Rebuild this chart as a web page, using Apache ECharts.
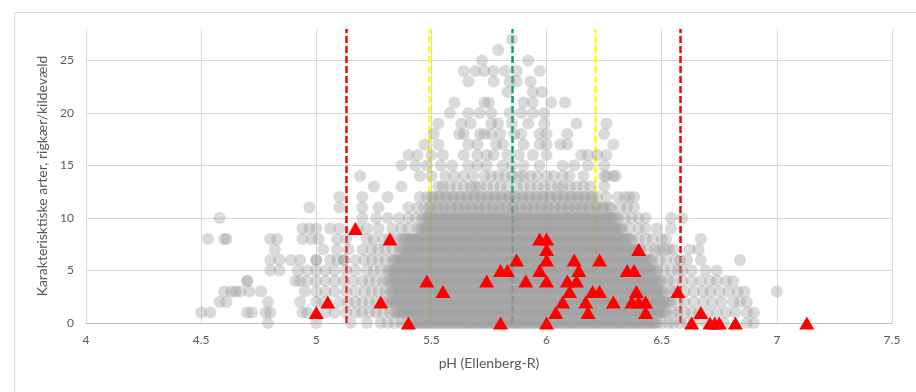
<!DOCTYPE html>
<html>
<head>
<meta charset="utf-8">
<script src="https://cdn.jsdelivr.net/npm/echarts@6/dist/echarts.min.js"></script>
<style>
  html, body { margin: 0; padding: 0; background: #ffffff; }
  #chart { width: 916px; height: 392px; }
</style>
</head>
<body>
<div id="chart"></div>
<script>
// Axis ranges
const phMin = 4, phMax = 7.5, phStep = 0.5;
const countMin = 0, countMax = 28, countStep = 5;

// Threshold lines (pH): mean, ±1 SD, ±2 SD
const redLines = [5.126, 6.578];
const yellowLines = [5.489, 6.215];
const greenLines = [5.852];

// Grey sites: pH values listed per number of characteristic species (row index = count)
const greyRow0 = [4.79, 5.00, 5.15, 5.22, 5.28, 5.31, 5.34, 5.37, 5.39,
  5.41, 5.42, 5.43, 5.44, 5.45, 5.46, 5.47, 5.48, 5.49, 5.50, 5.51, 5.52, 5.53, 5.54, 5.55, 5.56, 5.57, 5.58, 5.59, 5.60,
  5.61, 5.62, 5.63, 5.64, 5.65, 5.66, 5.67, 5.68, 5.69, 5.70, 5.71, 5.72, 5.73, 5.74, 5.75, 5.76, 5.77, 5.78, 5.79, 5.80,
  5.81, 5.82, 5.83, 5.84, 5.85, 5.86, 5.87, 5.88, 5.89, 5.90, 5.91, 5.92, 5.93, 5.94, 5.95, 5.96, 5.97, 5.98, 5.99, 6.00,
  6.01, 6.02, 6.03, 6.04, 6.05, 6.06, 6.07, 6.08, 6.09, 6.10, 6.11, 6.12, 6.13, 6.14, 6.15, 6.16, 6.17, 6.18, 6.19, 6.20,
  6.21, 6.22, 6.23, 6.24, 6.25, 6.26, 6.27, 6.28, 6.29, 6.30, 6.31, 6.32, 6.33, 6.34, 6.35, 6.36, 6.37, 6.38, 6.39, 6.40,
  6.41, 6.42, 6.43, 6.44, 6.45, 6.46, 6.47, 6.48,
  6.50, 6.53, 6.55, 6.58, 6.61, 6.64, 6.69, 6.77, 6.87, 6.90];
const greyRow1 = [4.50, 4.54, 4.70, 4.72, 4.78, 4.80, 4.94, 4.96, 5.04, 5.08, 5.13, 5.17, 5.20, 5.23, 5.26, 5.29, 5.32,
  5.34, 5.35, 5.36, 5.37, 5.38, 5.39, 5.40,
  5.41, 5.42, 5.43, 5.44, 5.45, 5.46, 5.47, 5.48, 5.49, 5.50, 5.51, 5.52, 5.53, 5.54, 5.55, 5.56, 5.57, 5.58, 5.59, 5.60,
  5.61, 5.62, 5.63, 5.64, 5.65, 5.66, 5.67, 5.68, 5.69, 5.70, 5.71, 5.72, 5.73, 5.74, 5.75, 5.76, 5.77, 5.78, 5.79, 5.80,
  5.81, 5.82, 5.83, 5.84, 5.85, 5.86, 5.87, 5.88, 5.89, 5.90, 5.91, 5.92, 5.93, 5.94, 5.95, 5.96, 5.97, 5.98, 5.99, 6.00,
  6.01, 6.02, 6.03, 6.04, 6.05, 6.06, 6.07, 6.08, 6.09, 6.10, 6.11, 6.12, 6.13, 6.14, 6.15, 6.16, 6.17, 6.18, 6.19, 6.20,
  6.21, 6.22, 6.23, 6.24, 6.25, 6.26, 6.27, 6.28, 6.29, 6.30, 6.31, 6.32, 6.33, 6.34, 6.35, 6.36, 6.37, 6.38, 6.39, 6.40,
  6.41, 6.42, 6.43, 6.44, 6.45, 6.46, 6.47, 6.48, 6.49, 6.50, 6.51, 6.52,
  6.55, 6.57, 6.60, 6.63, 6.66, 6.70, 6.74, 6.78, 6.82, 6.87, 6.90];
const greyRow2 = [4.58, 4.61, 4.79, 4.93, 5.00, 5.03, 5.10, 5.14, 5.17, 5.20, 5.23, 5.26, 5.29,
  5.31, 5.32, 5.33, 5.34, 5.35, 5.36, 5.37, 5.38, 5.39, 5.40,
  5.41, 5.42, 5.43, 5.44, 5.45, 5.46, 5.47, 5.48, 5.49, 5.50, 5.51, 5.52, 5.53, 5.54, 5.55, 5.56, 5.57, 5.58, 5.59, 5.60,
  5.61, 5.62, 5.63, 5.64, 5.65, 5.66, 5.67, 5.68, 5.69, 5.70, 5.71, 5.72, 5.73, 5.74, 5.75, 5.76, 5.77, 5.78, 5.79, 5.80,
  5.81, 5.82, 5.83, 5.84, 5.85, 5.86, 5.87, 5.88, 5.89, 5.90, 5.91, 5.92, 5.93, 5.94, 5.95, 5.96, 5.97, 5.98, 5.99, 6.00,
  6.01, 6.02, 6.03, 6.04, 6.05, 6.06, 6.07, 6.08, 6.09, 6.10, 6.11, 6.12, 6.13, 6.14, 6.15, 6.16, 6.17, 6.18, 6.19, 6.20,
  6.21, 6.22, 6.23, 6.24, 6.25, 6.26, 6.27, 6.28, 6.29, 6.30, 6.31, 6.32, 6.33, 6.34, 6.35, 6.36, 6.37, 6.38, 6.39, 6.40,
  6.41, 6.42, 6.43, 6.44, 6.45, 6.46, 6.47, 6.48, 6.49, 6.50, 6.51, 6.52, 6.53, 6.54,
  6.57, 6.60, 6.64, 6.68, 6.72, 6.76, 6.81, 6.84, 6.87];
const greyRow3 = [4.60, 4.63, 4.65, 4.67, 4.71, 4.76, 4.95, 5.00, 5.04, 5.08, 5.13, 5.17, 5.21, 5.24, 5.27, 5.30,
  5.32, 5.33, 5.34, 5.35, 5.36, 5.37, 5.38, 5.39, 5.40,
  5.41, 5.42, 5.43, 5.44, 5.45, 5.46, 5.47, 5.48, 5.49, 5.50, 5.51, 5.52, 5.53, 5.54, 5.55, 5.56, 5.57, 5.58, 5.59, 5.60,
  5.61, 5.62, 5.63, 5.64, 5.65, 5.66, 5.67, 5.68, 5.69, 5.70, 5.71, 5.72, 5.73, 5.74, 5.75, 5.76, 5.77, 5.78, 5.79, 5.80,
  5.81, 5.82, 5.83, 5.84, 5.85, 5.86, 5.87, 5.88, 5.89, 5.90, 5.91, 5.92, 5.93, 5.94, 5.95, 5.96, 5.97, 5.98, 5.99, 6.00,
  6.01, 6.02, 6.03, 6.04, 6.05, 6.06, 6.07, 6.08, 6.09, 6.10, 6.11, 6.12, 6.13, 6.14, 6.15, 6.16, 6.17, 6.18, 6.19, 6.20,
  6.21, 6.22, 6.23, 6.24, 6.25, 6.26, 6.27, 6.28, 6.29, 6.30, 6.31, 6.32, 6.33, 6.34, 6.35, 6.36, 6.37, 6.38, 6.39, 6.40,
  6.41, 6.42, 6.43, 6.44, 6.45, 6.46, 6.47, 6.48, 6.49, 6.50, 6.51,
  6.54, 6.56, 6.60, 6.64, 6.68, 6.71, 6.75, 6.79, 6.83, 6.86, 7.00];
const greyRow4 = [4.70, 4.70, 4.91, 4.93, 4.96, 5.00, 5.04, 5.08, 5.12, 5.16, 5.20, 5.23, 5.26, 5.29,
  5.31, 5.32, 5.33, 5.34, 5.35, 5.36, 5.37, 5.38, 5.39, 5.40,
  5.41, 5.42, 5.43, 5.44, 5.45, 5.46, 5.47, 5.48, 5.49, 5.50, 5.51, 5.52, 5.53, 5.54, 5.55, 5.56, 5.57, 5.58, 5.59, 5.60,
  5.61, 5.62, 5.63, 5.64, 5.65, 5.66, 5.67, 5.68, 5.69, 5.70, 5.71, 5.72, 5.73, 5.74, 5.75, 5.76, 5.77, 5.78, 5.79, 5.80,
  5.81, 5.82, 5.83, 5.84, 5.85, 5.86, 5.87, 5.88, 5.89, 5.90, 5.91, 5.92, 5.93, 5.94, 5.95, 5.96, 5.97, 5.98, 5.99, 6.00,
  6.01, 6.02, 6.03, 6.04, 6.05, 6.06, 6.07, 6.08, 6.09, 6.10, 6.11, 6.12, 6.13, 6.14, 6.15, 6.16, 6.17, 6.18, 6.19, 6.20,
  6.21, 6.22, 6.23, 6.24, 6.25, 6.26, 6.27, 6.28, 6.29, 6.30, 6.31, 6.32, 6.33, 6.34, 6.35, 6.36, 6.37, 6.38, 6.39, 6.40,
  6.41, 6.42, 6.43, 6.44, 6.45, 6.46, 6.47, 6.48, 6.49, 6.50,
  6.53, 6.55, 6.59, 6.63, 6.67, 6.71, 6.74, 6.78, 6.81];
const greyRow5 = [4.80, 4.84, 4.92, 4.96, 5.00, 5.04, 5.08, 5.13, 5.17, 5.22, 5.25, 5.28,
  5.31, 5.32, 5.33, 5.34, 5.35, 5.36, 5.37, 5.38, 5.39, 5.40,
  5.41, 5.42, 5.43, 5.44, 5.45, 5.46, 5.47, 5.48, 5.49, 5.50, 5.51, 5.52, 5.53, 5.54, 5.55, 5.56, 5.57, 5.58, 5.59, 5.60,
  5.61, 5.62, 5.63, 5.64, 5.65, 5.66, 5.67, 5.68, 5.69, 5.70, 5.71, 5.72, 5.73, 5.74, 5.75, 5.76, 5.77, 5.78, 5.79, 5.80,
  5.81, 5.82, 5.83, 5.84, 5.85, 5.86, 5.87, 5.88, 5.89, 5.90, 5.91, 5.92, 5.93, 5.94, 5.95, 5.96, 5.97, 5.98, 5.99, 6.00,
  6.01, 6.02, 6.03, 6.04, 6.05, 6.06, 6.07, 6.08, 6.09, 6.10, 6.11, 6.12, 6.13, 6.14, 6.15, 6.16, 6.17, 6.18, 6.19, 6.20,
  6.21, 6.22, 6.23, 6.24, 6.25, 6.26, 6.27, 6.28, 6.29, 6.30, 6.31, 6.32, 6.33, 6.34, 6.35, 6.36, 6.37, 6.38, 6.39, 6.40,
  6.41, 6.42, 6.43, 6.44, 6.45, 6.46, 6.47, 6.48,
  6.51, 6.54, 6.57, 6.59, 6.63, 6.69, 6.74];
const greyRow6 = [4.80, 4.84, 4.89, 4.93, 5.00, 5.00, 5.06, 5.09, 5.12, 5.12, 5.17, 5.21, 5.24, 5.27, 5.30,
  5.33, 5.34, 5.35, 5.36, 5.37, 5.38, 5.39, 5.40,
  5.41, 5.42, 5.43, 5.44, 5.45, 5.46, 5.47, 5.48, 5.49, 5.50, 5.51, 5.52, 5.53, 5.54, 5.55, 5.56, 5.57, 5.58, 5.59, 5.60,
  5.61, 5.62, 5.63, 5.64, 5.65, 5.66, 5.67, 5.68, 5.69, 5.70, 5.71, 5.72, 5.73, 5.74, 5.75, 5.76, 5.77, 5.78, 5.79, 5.80,
  5.81, 5.82, 5.83, 5.84, 5.85, 5.86, 5.87, 5.88, 5.89, 5.90, 5.91, 5.92, 5.93, 5.94, 5.95, 5.96, 5.97, 5.98, 5.99, 6.00,
  6.01, 6.02, 6.03, 6.04, 6.05, 6.06, 6.07, 6.08, 6.09, 6.10, 6.11, 6.12, 6.13, 6.14, 6.15, 6.16, 6.17, 6.18, 6.19, 6.20,
  6.21, 6.22, 6.23, 6.24, 6.25, 6.26, 6.27, 6.28, 6.29, 6.30, 6.31, 6.32, 6.33, 6.34, 6.35, 6.36, 6.37, 6.38, 6.39, 6.40,
  6.41, 6.42, 6.43, 6.44, 6.45, 6.46,
  6.49, 6.52, 6.56, 6.58, 6.61, 6.67, 6.84];
const greyRow7 = [4.82, 5.03, 5.09, 5.14, 5.20, 5.24, 5.27, 5.30, 5.33,
  5.36, 5.37, 5.38, 5.39, 5.40,
  5.41, 5.42, 5.43, 5.44, 5.45, 5.46, 5.47, 5.48, 5.49, 5.50, 5.51, 5.52, 5.53, 5.54, 5.55, 5.56, 5.57, 5.58, 5.59, 5.60,
  5.61, 5.62, 5.63, 5.64, 5.65, 5.66, 5.67, 5.68, 5.69, 5.70, 5.71, 5.72, 5.73, 5.74, 5.75, 5.76, 5.77, 5.78, 5.79, 5.80,
  5.81, 5.82, 5.83, 5.84, 5.85, 5.86, 5.87, 5.88, 5.89, 5.90, 5.91, 5.92, 5.93, 5.94, 5.95, 5.96, 5.97, 5.98, 5.99, 6.00,
  6.01, 6.02, 6.03, 6.04, 6.05, 6.06, 6.07, 6.08, 6.09, 6.10, 6.11, 6.12, 6.13, 6.14, 6.15, 6.16, 6.17, 6.18, 6.19, 6.20,
  6.21, 6.22, 6.23, 6.24, 6.25, 6.26, 6.27, 6.28, 6.29, 6.30, 6.31, 6.32, 6.33, 6.34, 6.35, 6.36, 6.37, 6.38, 6.39, 6.40,
  6.41,
  6.44, 6.47, 6.49, 6.51, 6.53, 6.55, 6.62, 6.66];
const greyRow8 = [4.53, 4.60, 4.61, 4.80, 4.83, 4.94, 4.98, 5.01, 5.09, 5.13, 5.22, 5.25, 5.29, 5.32, 5.35,
  5.37, 5.38, 5.39, 5.40,
  5.41, 5.42, 5.43, 5.44, 5.45, 5.46, 5.47, 5.48, 5.49, 5.50, 5.51, 5.52, 5.53, 5.54, 5.55, 5.56, 5.57, 5.58, 5.59, 5.60,
  5.61, 5.62, 5.63, 5.64, 5.65, 5.66, 5.67, 5.68, 5.69, 5.70, 5.71, 5.72, 5.73, 5.74, 5.75, 5.76, 5.77, 5.78, 5.79, 5.80,
  5.81, 5.82, 5.83, 5.84, 5.85, 5.86, 5.87, 5.88, 5.89, 5.90, 5.91, 5.92, 5.93, 5.94, 5.95, 5.96, 5.97, 5.98, 5.99, 6.00,
  6.01, 6.02, 6.03, 6.04, 6.05, 6.06, 6.07, 6.08, 6.09, 6.10, 6.11, 6.12, 6.13, 6.14, 6.15, 6.16, 6.17, 6.18, 6.19, 6.20,
  6.21, 6.22, 6.23, 6.24, 6.25, 6.26, 6.27, 6.28, 6.29, 6.30, 6.31, 6.32, 6.33, 6.34, 6.35, 6.36, 6.37,
  6.40, 6.43, 6.46, 6.50, 6.52, 6.67];
const greyRow9 = [4.94, 4.97, 5.00, 5.06, 5.10, 5.18, 5.22, 5.27, 5.33, 5.37, 5.40,
  5.44, 5.45, 5.46, 5.47, 5.48, 5.49, 5.50, 5.51, 5.52, 5.53, 5.54, 5.55, 5.56, 5.57, 5.58, 5.59, 5.60,
  5.61, 5.62, 5.63, 5.64, 5.65, 5.66, 5.67, 5.68, 5.69, 5.70, 5.71, 5.72, 5.73, 5.74, 5.75, 5.76, 5.77, 5.78, 5.79, 5.80,
  5.81, 5.82, 5.83, 5.84, 5.85, 5.86, 5.87, 5.88, 5.89, 5.90, 5.91, 5.92, 5.93, 5.94, 5.95, 5.96, 5.97, 5.98, 5.99, 6.00,
  6.01, 6.02, 6.03, 6.04, 6.05, 6.06, 6.07, 6.08, 6.09, 6.10, 6.11, 6.12, 6.13, 6.14, 6.15, 6.16, 6.17, 6.18, 6.19, 6.20,
  6.21, 6.22, 6.23, 6.24, 6.25, 6.26, 6.27, 6.28, 6.29, 6.30, 6.31, 6.32, 6.33,
  6.36, 6.40, 6.43, 6.48, 6.54];
const greyRow10 = [4.58, 5.20, 5.26, 5.31, 5.36, 5.40, 5.43,
  5.46, 5.47, 5.48, 5.49, 5.50, 5.51, 5.52, 5.53, 5.54, 5.55, 5.56, 5.57, 5.58, 5.59, 5.60,
  5.61, 5.62, 5.63, 5.64, 5.65, 5.66, 5.67, 5.68, 5.69, 5.70, 5.71, 5.72, 5.73, 5.74, 5.75, 5.76, 5.77, 5.78, 5.79, 5.80,
  5.81, 5.82, 5.83, 5.84, 5.85, 5.86, 5.87, 5.88, 5.89, 5.90, 5.91, 5.92, 5.93, 5.94, 5.95, 5.96, 5.97, 5.98, 5.99, 6.00,
  6.01, 6.02, 6.03, 6.04, 6.05, 6.06, 6.07, 6.08, 6.09, 6.10, 6.11, 6.12, 6.13, 6.14, 6.15, 6.16, 6.17, 6.18, 6.19, 6.20,
  6.21, 6.22, 6.23, 6.24, 6.25, 6.26, 6.27, 6.28, 6.29, 6.30, 6.31,
  6.34, 6.37, 6.40, 6.43, 6.54, 6.59];
const greyRow11 = [4.97, 5.10, 5.20, 5.27, 5.40, 5.44, 5.47, 5.49, 5.50, 5.52, 5.53, 5.55, 5.56, 5.58, 5.59, 5.61, 5.62,
  5.64, 5.65, 5.67, 5.68, 5.70, 5.71, 5.73, 5.74, 5.76, 5.77, 5.79, 5.80, 5.82, 5.83, 5.85, 5.86, 5.88, 5.89, 5.91, 5.92,
  5.94, 5.95, 5.97, 5.98, 6.00, 6.01, 6.03, 6.04, 6.06, 6.07, 6.09, 6.10, 6.12, 6.13, 6.15, 6.16, 6.18, 6.19, 6.21, 6.22,
  6.24, 6.25, 6.27, 6.28, 6.32, 6.35, 6.38];
const greyRow12 = [5.10, 5.20, 5.31, 5.45, 5.48,
  5.50, 5.51, 5.53, 5.54, 5.56, 5.57, 5.59, 5.60, 5.62, 5.63, 5.65, 5.66, 5.68, 5.69, 5.71, 5.72, 5.74, 5.75, 5.77, 5.78,
  5.80, 5.81, 5.83, 5.84, 5.86, 5.87, 5.89, 5.90, 5.92, 5.93, 5.95, 5.96, 5.98, 5.99, 6.01, 6.02, 6.04, 6.05, 6.07, 6.08,
  6.10, 6.11, 6.13, 6.14, 6.16, 6.17, 6.19, 6.20, 6.22,
  6.26, 6.31, 6.34, 6.36, 6.38];
const greyRow13 = [5.25, 5.37, 5.53, 5.55, 5.58, 5.61, 5.64, 5.67, 5.69, 5.71, 5.74, 5.77, 5.80, 5.83, 5.87, 5.90, 5.93, 5.96, 5.99, 6.02, 6.05, 6.07, 6.10, 6.13, 6.16, 6.19, 6.25];
const greyRow14 = [5.19, 5.45, 5.50, 5.56, 5.60, 5.64, 5.68, 5.73, 5.76, 5.79, 5.82, 5.85, 5.88, 5.90, 5.93, 5.96, 6.00, 6.03, 6.07, 6.10, 6.16, 6.25, 6.26, 6.29, 6.30];
const greyRow15 = [5.37, 5.43, 5.48, 5.54, 5.59, 5.66, 5.70, 5.74, 5.81, 5.85, 5.90, 5.97, 6.07, 6.12, 6.18, 6.25];
const greyRow16 = [5.40, 5.44, 5.50, 5.55, 5.64, 5.70, 5.74, 5.77, 5.83, 5.88, 5.94, 6.00, 6.15, 6.18, 6.22, 6.26];
const greyRow17 = [5.47, 5.53, 5.66, 5.70, 5.78, 5.81, 5.90, 5.97, 6.00, 6.06, 6.09, 6.29];
const greyRow18 = [5.51, 5.62, 5.64, 5.71, 5.73, 5.76, 5.80, 5.86, 5.89, 5.97, 6.00, 6.09, 6.25];
const greyRow19 = [5.53, 5.63, 5.67, 5.76, 5.79, 5.85, 5.92, 5.99, 6.13, 6.26];
const greyRow20 = [5.58, 5.66, 5.71, 5.76, 5.84, 5.89, 5.94, 5.99];
const greyRow21 = [5.60, 5.73, 5.75, 5.90, 5.94, 6.02, 6.08];
const greyRow22 = [5.83, 5.94, 5.98];
const greyRow23 = [5.66, 5.77, 5.84, 5.87, 5.93];
const greyRow24 = [5.64, 5.69, 5.73, 5.77, 5.82, 5.87, 5.97];
const greyRow25 = [5.72, 5.92];
const greyRow26 = [5.79];
const greyRow27 = [5.85];

// Highlighted sites (red triangles)
const redPH = [5.00, 5.05, 5.17, 5.28, 5.32, 5.40, 5.48, 5.55, 5.74, 5.80, 5.80, 5.83, 5.87, 5.91, 5.97, 5.97,
  6.00, 6.00, 6.00, 6.00, 6.00, 6.04, 6.07, 6.10, 6.09, 6.13, 6.12, 6.14, 6.17, 6.18, 6.20, 6.23, 6.23, 6.29,
  6.35, 6.38, 6.40, 6.39, 6.37, 6.40, 6.43, 6.43, 6.57, 6.63, 6.67, 6.71, 6.73, 6.75, 6.82, 7.13];
const redCount = [1, 2, 9, 2, 8, 0, 4, 3, 4, 0, 5, 5, 6, 4, 5, 8,
  8, 7, 6, 4, 0, 1, 2, 3, 4, 4, 6, 5, 2, 1, 3, 3, 6, 2,
  5, 5, 7, 3, 2, 2, 2, 1, 3, 0, 1, 0, 0, 0, 0, 0];

const greyRows = [greyRow0, greyRow1, greyRow2, greyRow3, greyRow4, greyRow5, greyRow6, greyRow7,
  greyRow8, greyRow9, greyRow10, greyRow11, greyRow12, greyRow13, greyRow14, greyRow15, greyRow16,
  greyRow17, greyRow18, greyRow19, greyRow20, greyRow21, greyRow22, greyRow23, greyRow24, greyRow25,
  greyRow26, greyRow27];

const greyData = [];
greyRows.forEach((row, count) => row.forEach(ph => greyData.push([ph, count])));
const redData = redPH.map((ph, i) => [ph, redCount[i]]);

function vLines(values, color) {
  return values.map(v => ({ xAxis: v, lineStyle: { color: color } }));
}

const FONT = 'Lato, "Open Sans", sans-serif';
const TEXT = '#595959';

const chart = echarts.init(document.getElementById('chart'), null, { renderer: 'canvas' });
chart.setOption({
  animation: false,
  backgroundColor: '#ffffff',
  textStyle: { fontFamily: FONT },
  graphic: [{
    type: 'rect',
    left: 12, top: 10,
    shape: { width: 920, height: 400 },
    style: { fill: 'none', stroke: '#d9d9d9', lineWidth: 1 },
    silent: true
  }],
  grid: { left: 86, right: 24, top: 29, bottom: 69 },
  xAxis: {
    type: 'value',
    min: phMin, max: phMax, interval: phStep,
    name: 'pH (Ellenberg-R)',
    nameLocation: 'middle',
    nameGap: 33,
    nameTextStyle: { color: TEXT, fontSize: 14, fontFamily: FONT },
    axisLine: { show: true, lineStyle: { color: '#bfbfbf', width: 1 } },
    axisTick: { show: false },
    axisLabel: { color: TEXT, fontSize: 12, margin: 11, fontFamily: FONT },
    splitLine: { show: true, lineStyle: { color: '#d9d9d9', width: 1 } }
  },
  yAxis: {
    type: 'value',
    min: countMin, max: countMax, interval: countStep,
    name: 'Karakterisktiske arter, rigkær/kildevæld',
    nameLocation: 'middle',
    nameGap: 34,
    nameTextStyle: { color: TEXT, fontSize: 14, fontFamily: FONT },
    axisLine: { show: false },
    axisTick: { show: false },
    axisLabel: {
      color: TEXT, fontSize: 12, margin: 12, fontFamily: FONT,
      formatter: v => (v % countStep === 0 ? String(v) : '')
    },
    splitLine: { show: true, showMaxLine: false, lineStyle: { color: '#d9d9d9', width: 1 } }
  },
  series: [
    {
      name: 'Grænser',
      type: 'scatter',
      data: [],
      z: 1,
      markLine: {
        z: 1,
        silent: true,
        symbol: ['none', 'none'],
        label: { show: false },
        lineStyle: { type: [7, 3], width: 2.5 },
        data: [].concat(vLines(redLines, '#ff0000'), vLines(yellowLines, '#ffff00'), vLines(greenLines, '#00a651'))
      }
    },
    {
      name: 'Alle',
      type: 'scatter',
      data: greyData,
      z: 2,
      symbol: 'circle',
      symbolSize: 12,
      itemStyle: { color: '#999999', opacity: 0.36 },
      large: false,
      progressive: 0
    },
    {
      name: 'Udvalgte',
      type: 'scatter',
      data: redData,
      z: 3,
      symbol: 'triangle',
      symbolSize: [15, 13],
      itemStyle: { color: '#ff0000', opacity: 1 }
    }
  ]
});
</script>
</body>
</html>
